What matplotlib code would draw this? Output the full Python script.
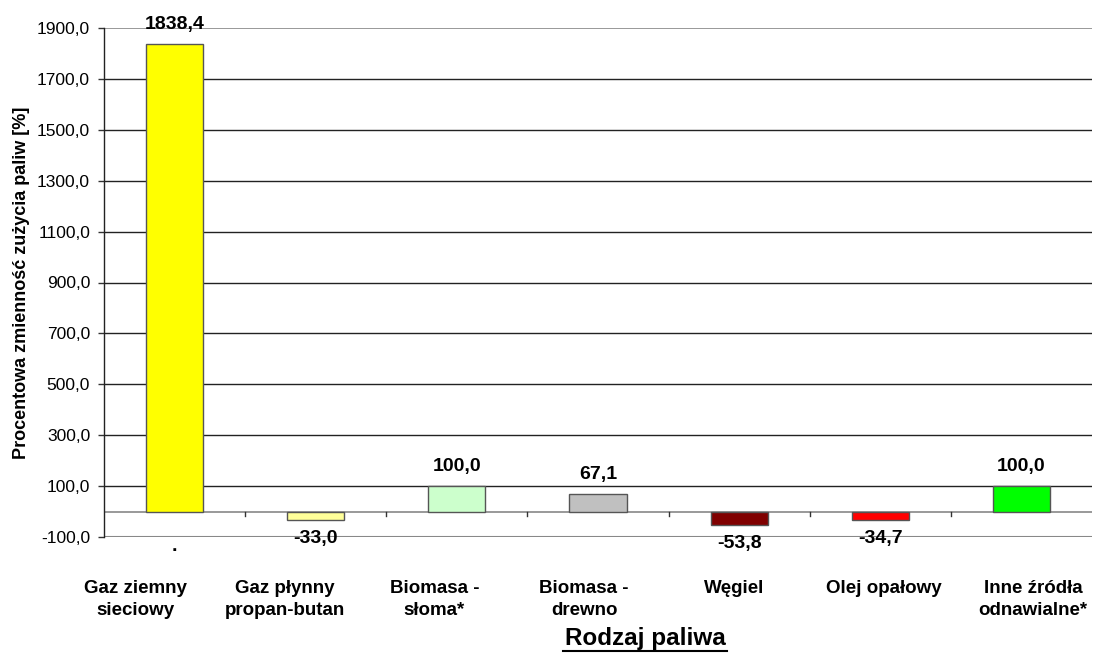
import numpy as np
import matplotlib.pyplot as plt
from matplotlib.ticker import FuncFormatter

plt.rcParams['font.family'] = ['Liberation Sans', 'DejaVu Sans']

# dane
kategorie = ["Gaz ziemny\nsieciowy", "Gaz płynny\npropan-butan", "Biomasa -\nsłoma*",
             "Biomasa -\ndrewno", "Węgiel", "Olej opałowy", "Inne źródła\nodnawialne*"]
zmiana = [1838.4, -33.0, 100.0, 67.1, -53.8, -34.7, 100.0]
kolory = ["#FFFF00", "#FFFF99", "#CCFFCC", "#C0C0C0", "#800000", "#FF0000", "#00FF00"]
y_ticks = [-100, 100, 300, 500, 700, 900, 1100, 1300, 1500, 1700, 1900]

W, H = 1093, 655
fig = plt.figure(figsize=(W / 100, H / 100), dpi=100)
ax = fig.add_axes([104 / W, 1 - 537 / H, (1092 - 104) / W, (537 - 28) / H])

x = np.arange(len(zmiana))
ax.bar(x, zmiana, width=0.404, color=kolory, edgecolor="#555555", linewidth=1, zorder=3)

ax.set_xlim(-0.5, len(zmiana) - 0.5)
ax.set_ylim(-100, 1900)
ax.set_yticks(y_ticks)
ax.yaxis.set_major_formatter(FuncFormatter(lambda v, p: f"{v:.1f}".replace(".", ",")))
ax.tick_params(axis="y", labelsize=12.5, length=4, width=1, color="#333333", pad=6)

# siatka
for v in y_ticks[1:-1]:
    ax.axhline(v, color="#222222", linewidth=1, zorder=1)
ax.axhline(1900, color="#888888", linewidth=1.2, zorder=1)
ax.axhline(-100, color="#888888", linewidth=1.5, zorder=1)
ax.axhline(0, color="#888888", linewidth=1.2, zorder=2)

# znaczniki kategorii na osi zero
for b in np.arange(0.5, len(zmiana) - 0.5, 1):
    ax.plot([b, b], [0, -18], color="#333333", linewidth=1, zorder=2)

for s in ["top", "right", "bottom"]:
    ax.spines[s].set_visible(False)
ax.spines["left"].set_color("#222222")
ax.spines["left"].set_linewidth(1)
ax.set_xticks([])

# etykiety wartości
for xi, v in zip(x, zmiana):
    txt = f"{v:.1f}".replace(".", ",")
    if v >= 0:
        ax.annotate(txt, (xi, v), xytext=(0, 8), textcoords="offset points",
                    ha="center", va="bottom", fontsize=14, fontweight="bold")
    else:
        ax.annotate(txt, (xi, v), xytext=(0, -7), textcoords="offset points",
                    ha="center", va="top", fontsize=14, fontweight="bold")

ax.annotate(".", (0, -100), xytext=(0, -1), textcoords="offset points",
            ha="center", va="top", fontsize=14, fontweight="bold", annotation_clip=False)

# etykiety kategorii (rozmieszczone jak w oryginale, nieco szerzej niż słupki)
for i, k in enumerate(kategorie):
    fig.text((135 + i * 149.7) / W, 1 - 580 / H, k, ha="center", va="top",
             fontsize=13.5, fontweight="bold", linespacing=1.38, multialignment="center")

fig.text(645 / W, 1 - 639 / H, "Rodzaj paliwa", ha="center", va="center",
         fontsize=17.5, fontweight="bold")
# podkreślenie
fig.add_artist(plt.Line2D([563 / W, 727 / W], [1 - 651 / H, 1 - 651 / H],
                          color="black", linewidth=1.5))

ax.set_ylabel("Procentowa zmienność zużycia paliw [%]", fontsize=13,
              fontweight="bold", labelpad=5)

fig.savefig("out.png", dpi=100)
